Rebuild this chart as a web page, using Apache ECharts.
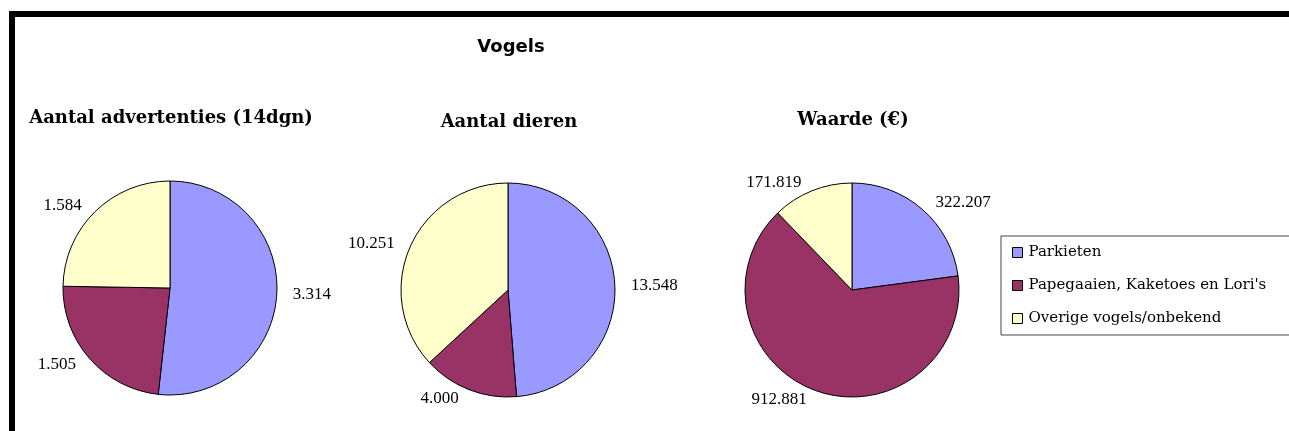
<!DOCTYPE html>
<html>
<head>
<meta charset="utf-8">
<script src="https://cdn.jsdelivr.net/npm/echarts@6/dist/echarts.min.js"></script>
<style>
  html, body { margin: 0; padding: 0; background: #fff; }
  #chart { width: 1289px; height: 431px; }
</style>
</head>
<body>
<div id="chart"></div>
<script>
// categories (legend)
const categories = ['Parkieten', "Papegaaien, Kaketoes en Lori's", 'Overige vogels/onbekend']
const colors = ['#9999ff', '#993366', '#ffffcc']

// one pie per measure
const pieTitles = ['Aantal advertenties (14dgn)', 'Aantal dieren', 'Waarde (€)']
const advertenties = [3314, 1505, 1584]
const dieren = [13548, 4000, 10251]
const waarde = [322207, 912881, 171819]

const pieValues = [advertenties, dieren, waarde]
const centers = [[170, 288], [508, 290], [852, 290]]
const titleY = [118, 122, 120]

// dutch thousands separator
const fmt = (v) => String(v).replace(/\B(?=(\d{3})+(?!\d))/g, '.')

const chart = echarts.init(document.getElementById('chart'))

const serif = '"Liberation Serif", "Times New Roman", serif'
const wideSerif = '"DejaVu Serif", serif'

const series = pieValues.map((vals, i) => ({
    type: 'pie',
    center: centers[i],
    radius: 107,
    startAngle: 90,
    clockwise: true,
    animation: false,
    silent: true,
    itemStyle: { borderColor: '#000', borderWidth: 1 },
    label: {
        show: true,
        position: 'outside',
        color: '#000',
        fontFamily: serif,
        fontSize: 17,
        formatter: (p) => fmt(p.value)
    },
    labelLine: { show: false, length: 9, length2: 2 },
    emphasis: { disabled: true },
    data: vals.map((v, k) => ({
        name: categories[k],
        value: v,
        itemStyle: { color: colors[k] }
    }))
}))

const graphics = [
    // frame top + left
    { type: 'rect', shape: { x: 9, y: 11, width: 1280, height: 6 }, style: { fill: '#000' } },
    { type: 'rect', shape: { x: 9, y: 11, width: 6, height: 420 }, style: { fill: '#000' } },
    {
        type: 'text', x: 511, y: 47,
        style: {
            text: 'Vogels', fill: '#000', align: 'center', verticalAlign: 'middle',
            font: 'bold 18px "DejaVu Sans", sans-serif'
        }
    }
]
pieTitles.forEach((t, i) => {
    graphics.push({
        type: 'text', x: centers[i][0] + 1, y: titleY[i],
        style: {
            text: t, fill: '#000', align: 'center', verticalAlign: 'middle',
            font: 'bold 18px ' + wideSerif
        }
    })
})

chart.setOption({
    backgroundColor: '#fff',
    animation: false,
    legend: {
        orient: 'vertical',
        left: 1001,
        top: 236,
        data: categories,
        icon: 'rect',
        itemWidth: 10,
        itemHeight: 10,
        itemGap: 18,
        padding: [9, 120, 9, 11],
        borderColor: '#444',
        borderWidth: 1,
        selectedMode: false,
        itemStyle: { borderColor: '#000', borderWidth: 1 },
        textStyle: { fontFamily: wideSerif, fontSize: 15, color: '#000', padding: [0, 0, 0, 1] }
    },
    graphic: graphics,
    series: series
})
</script>
</body>
</html>
